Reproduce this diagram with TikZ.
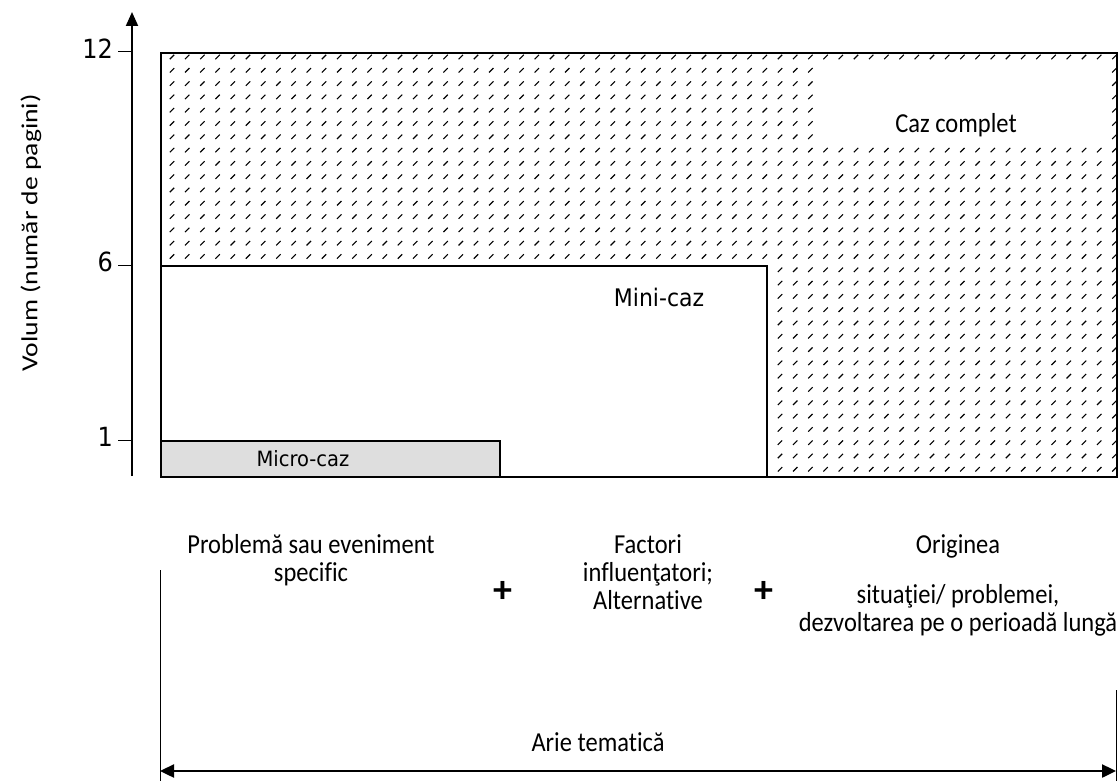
\documentclass[tikz,border=0pt]{standalone}
\usepackage{fontspec}
\usepackage{graphicx}
\setmainfont{Carlito}[Ligatures=NoCommon]
\newfontfamily\verd{DejaVu Sans}
\usetikzlibrary{arrows.meta}
% vertically stretched text block, lines centred
\newcommand\tallblock[1]{\scalebox{1}[1.12]{\begin{tabular}{@{}c@{}}#1\end{tabular}}}
\tikzset{
  axisline/.style={line width=2pt},
  tickline/.style={line width=1pt},
  boxline/.style={line width=1.6pt},
  hatchmark/.style={line width=1.1pt},
  lbl/.style={inner sep=0pt, font=\fontsize{24.5}{25}\selectfont},
  vlbl/.style={inner sep=0pt, font=\verd\fontsize{22}{26}\selectfont},
  plus/.style={inner sep=0pt, font=\bfseries\fontsize{38}{38}\selectfont},
}
\begin{document}
\begin{tikzpicture}[x=1pt,y=-1pt]
\useasboundingbox (0,0) rectangle (1118,781);
\fill[white] (0,0) rectangle (1118,781);

% hatched field of the full case
\begin{scope}
  \clip (160,52) rectangle (1116,476);
  \foreach \i in {0,...,63}{
    \foreach \j in {0,...,31}{
      \draw[hatchmark] ({172+15.2*\i-2.2},{57+13.3*\j+2.2}) -- ++(4.4,-4.4);
    }
  }
\end{scope}
\fill[white] (817,62) rectangle (1106,140);

% the three case sizes
\node[boxline, draw, fill=white, minimum width=606pt, minimum height=211pt, inner sep=0pt, anchor=north west] (mini) at (160,265) {};
\node[boxline, draw, fill=black!13, minimum width=339pt, minimum height=36pt, inner sep=0pt, anchor=north west] (micro) at (160,440) {};
\node[boxline, draw, minimum width=956pt, minimum height=424pt, inner sep=0pt, anchor=north west] (full) at (160,52) {};

\node[lbl] (lfull) at (956,127) {\tallblock{Caz complet}};
\node[vlbl] (lmini) at (659,297) {\scalebox{1}[1.1]{Mini-caz}};
\node[vlbl, font=\verd\fontsize{19.5}{22}\selectfont] (lmicro) at (303,459) {\scalebox{1}[1.08]{Micro-caz}};

% vertical axis with ticks
\coordinate (ybot) at (132,476);
\coordinate (ytop) at (132,12);
\draw[axisline, -{Triangle[length=14pt,width=12pt]}] (ybot) -- (ytop);
\coordinate (t12) at (118,52);
\coordinate (t6) at (118,265);
\coordinate (t1) at (118,440);
\draw[tickline] (t12) -- ++(14,0);
\draw[tickline] (t6) -- ++(14,0);
\draw[tickline] (t1) -- ++(14,0);
\node[vlbl, anchor=east, font=\verd\fontsize{24}{26}\selectfont] (n12) at (113,49) {\scalebox{1}[1.1]{12}};
\node[vlbl, anchor=east, font=\verd\fontsize{24}{26}\selectfont] (n6) at (113,262) {\scalebox{1}[1.1]{6}};
\node[vlbl, anchor=east, font=\verd\fontsize{24}{26}\selectfont] (n1) at (113,437) {\scalebox{1}[1.1]{1}};
\node[lbl, rotate=90, font=\fontsize{23}{24}\selectfont] (yname) at (31,233) {\scalebox{1.2}[1]{Volum (număr de pagini)}};

% thematic area
\node[lbl] (a1) at (311,562) {\tallblock{Problemă sau eveniment\\specific}};
\node[lbl] (a2) at (648,576) {\tallblock{Factori\\influenţatori;\\Alternative}};
\node[lbl] (a3a) at (958,548) {\tallblock{Originea}};
\node[lbl] (a3b) at (958,612) {\tallblock{situaţiei/ problemei,\\dezvoltarea pe o perioadă lungă}};
\node[plus] (p1) at (503,592) {+};
\node[plus] (p2) at (764,592) {+};

\coordinate (lft) at (160,570);
\coordinate (lfb) at (160,781);
\coordinate (rgt) at (1116,690);
\coordinate (rgb) at (1116,781);
\draw[tickline] (lft) -- (lfb);
\draw[tickline] (rgt) -- (rgb);
\coordinate (al) at (160,771);
\coordinate (ar) at (1116,771);
\draw[line width=2.4pt, {Triangle[length=14pt,width=13pt]}-{Triangle[length=14pt,width=13pt]}] (al) -- (ar);
\node[lbl] (arie) at (598,746) {\tallblock{Arie tematică}};
\end{tikzpicture}
\end{document}
